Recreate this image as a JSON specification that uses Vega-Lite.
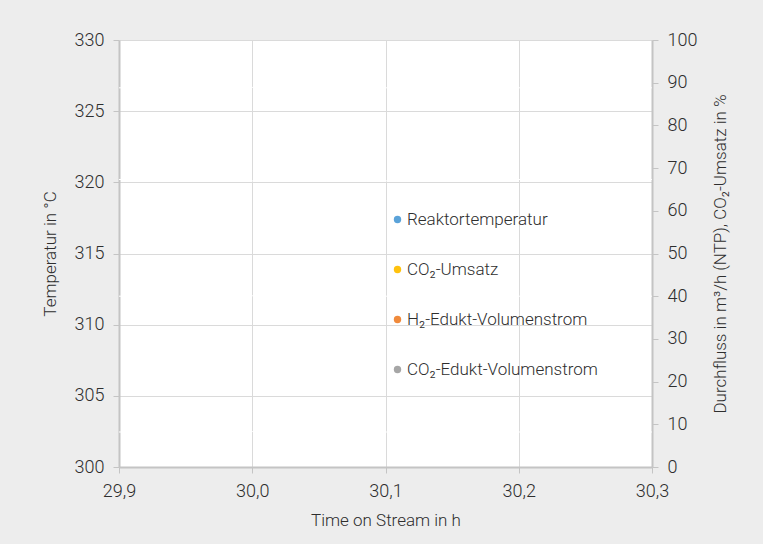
{
  "$schema": "https://vega.github.io/schema/vega-lite/v6.json",
  "width": 533,
  "height": 427,
  "autosize": {"type": "none"},
  "padding": {"left": 119, "top": 40, "right": 111, "bottom": 77},
  "background": "#ededed",
  "config": {
    "font": "Roboto",
    "view": {"fill": "white", "stroke": null},
    "axis": {
      "labelFont": "Roboto",
      "titleFont": "Roboto",
      "labelFontSize": 18,
      "titleFontSize": 17,
      "labelFontWeight": 300,
      "titleFontWeight": 300,
      "labelColor": "#2e2e2e",
      "titleColor": "#2e2e2e",
      "domainColor": "#c4c4c4",
      "domainWidth": 2,
      "tickColor": "#c4c4c4",
      "tickSize": 6,
      "tickWidth": 1,
      "gridColor": "#dadada",
      "gridWidth": 1,
      "labelPadding": 9
    },
    "legend": {
      "labelFont": "Roboto",
      "labelFontSize": 17,
      "labelFontWeight": 300,
      "labelColor": "#2e2e2e"
    }
  },
  "datasets": {
    "temp": [
      {"t": 29.90, "series": "Reaktortemperatur", "value": 320.2},
      {"t": 29.92, "series": "Reaktortemperatur", "value": 320.2},
      {"t": 29.94, "series": "Reaktortemperatur", "value": 320.1},
      {"t": 29.96, "series": "Reaktortemperatur", "value": 320.2},
      {"t": 29.98, "series": "Reaktortemperatur", "value": 320.2},
      {"t": 30.00, "series": "Reaktortemperatur", "value": 320.1},
      {"t": 30.02, "series": "Reaktortemperatur", "value": 320.2},
      {"t": 30.04, "series": "Reaktortemperatur", "value": 320.3},
      {"t": 30.06, "series": "Reaktortemperatur", "value": 320.2},
      {"t": 30.08, "series": "Reaktortemperatur", "value": 320.2},
      {"t": 30.10, "series": "Reaktortemperatur", "value": 320.1},
      {"t": 30.12, "series": "Reaktortemperatur", "value": 320.2},
      {"t": 30.14, "series": "Reaktortemperatur", "value": 320.2},
      {"t": 30.16, "series": "Reaktortemperatur", "value": 320.2},
      {"t": 30.18, "series": "Reaktortemperatur", "value": 320.1},
      {"t": 30.20, "series": "Reaktortemperatur", "value": 320.2},
      {"t": 30.22, "series": "Reaktortemperatur", "value": 320.2},
      {"t": 30.24, "series": "Reaktortemperatur", "value": 320.3},
      {"t": 30.26, "series": "Reaktortemperatur", "value": 320.2},
      {"t": 30.28, "series": "Reaktortemperatur", "value": 320.2},
      {"t": 30.30, "series": "Reaktortemperatur", "value": 320.2}
    ],
    "flow": [
      {"t": 29.90, "series": "CO₂-Umsatz", "value": 88.8},
      {"t": 29.95, "series": "CO₂-Umsatz", "value": 88.7},
      {"t": 30.00, "series": "CO₂-Umsatz", "value": 88.9},
      {"t": 30.05, "series": "CO₂-Umsatz", "value": 88.8},
      {"t": 30.10, "series": "CO₂-Umsatz", "value": 88.8},
      {"t": 30.15, "series": "CO₂-Umsatz", "value": 88.7},
      {"t": 30.20, "series": "CO₂-Umsatz", "value": 88.8},
      {"t": 30.25, "series": "CO₂-Umsatz", "value": 88.9},
      {"t": 30.30, "series": "CO₂-Umsatz", "value": 88.8},
      {"t": 29.90, "series": "H₂-Edukt-Volumenstrom", "value": 40.0},
      {"t": 29.95, "series": "H₂-Edukt-Volumenstrom", "value": 40.0},
      {"t": 30.00, "series": "H₂-Edukt-Volumenstrom", "value": 40.1},
      {"t": 30.05, "series": "H₂-Edukt-Volumenstrom", "value": 40.0},
      {"t": 30.10, "series": "H₂-Edukt-Volumenstrom", "value": 40.0},
      {"t": 30.15, "series": "H₂-Edukt-Volumenstrom", "value": 39.9},
      {"t": 30.20, "series": "H₂-Edukt-Volumenstrom", "value": 40.0},
      {"t": 30.25, "series": "H₂-Edukt-Volumenstrom", "value": 40.0},
      {"t": 30.30, "series": "H₂-Edukt-Volumenstrom", "value": 40.0},
      {"t": 29.90, "series": "CO₂-Edukt-Volumenstrom", "value": 8.2},
      {"t": 29.95, "series": "CO₂-Edukt-Volumenstrom", "value": 8.2},
      {"t": 30.00, "series": "CO₂-Edukt-Volumenstrom", "value": 8.3},
      {"t": 30.05, "series": "CO₂-Edukt-Volumenstrom", "value": 8.2},
      {"t": 30.10, "series": "CO₂-Edukt-Volumenstrom", "value": 8.2},
      {"t": 30.15, "series": "CO₂-Edukt-Volumenstrom", "value": 8.1},
      {"t": 30.20, "series": "CO₂-Edukt-Volumenstrom", "value": 8.2},
      {"t": 30.25, "series": "CO₂-Edukt-Volumenstrom", "value": 8.2},
      {"t": 30.30, "series": "CO₂-Edukt-Volumenstrom", "value": 8.2}
    ]
  },
  "encoding": {
    "x": {
      "field": "t",
      "type": "quantitative",
      "scale": {"domain": [29.9, 30.3], "nice": false, "zero": false},
      "axis": {
        "title": "Time on Stream in h",
        "values": [29.9, 30.0, 30.1, 30.2, 30.3],
        "labelExpr": "replace(format(datum.value, '.1f'), '.', ',')",
        "grid": true,
        "titlePadding": 12,
        "labelFlush": false
      }
    },
    "color": {
      "field": "series",
      "type": "nominal",
      "scale": {
        "domain": ["Reaktortemperatur", "CO₂-Umsatz", "H₂-Edukt-Volumenstrom", "CO₂-Edukt-Volumenstrom"],
        "range": ["#5ba3d9", "#ffc20e", "#f08a3c", "#a6a6a6"]
      },
      "legend": {
        "title": null,
        "orient": "none",
        "legendX": 270,
        "legendY": 171,
        "padding": 0,
        "symbolType": "circle",
        "symbolSize": 55,
        "symbolOpacity": 1,
        "symbolStrokeWidth": 0,
        "rowPadding": 32,
        "labelOffset": 1,
        "labelLimit": 400
      }
    }
  },
  "layer": [
    {
      "data": {"name": "temp"},
      "encoding": {
        "y": {
          "field": "value",
          "type": "quantitative",
          "scale": {"domain": [300, 330], "nice": false, "zero": false},
          "axis": {
            "orient": "left",
            "title": "Temperatur in °C",
            "values": [300, 305, 310, 315, 320, 325, 330],
            "grid": true,
            "titlePadding": 15,
            "labelFlush": false
          }
        }
      },
      "layer": [
        {
          "mark": {"type": "line", "stroke": "white", "strokeWidth": 1},
          "encoding": {"detail": {"field": "series"}, "color": {"value": "white"}}
        },
        {
          "mark": {"type": "point", "filled": true, "opacity": 0},
          "encoding": {}
        }
      ]
    },
    {
      "data": {"name": "flow"},
      "encoding": {
        "y": {
          "field": "value",
          "type": "quantitative",
          "scale": {"domain": [0, 100], "nice": false},
          "axis": {
            "orient": "right",
            "title": "Durchfluss in m³/h (NTP), CO₂-Umsatz in %",
            "values": [0, 10, 20, 30, 40, 50, 60, 70, 80, 90, 100],
            "grid": false,
            "titleAngle": 270,
            "titlePadding": 33,
            "labelFlush": false
          }
        }
      },
      "layer": [
        {
          "mark": {"type": "line", "stroke": "white", "strokeWidth": 1},
          "encoding": {"detail": {"field": "series"}, "color": {"value": "white"}}
        },
        {
          "mark": {"type": "point", "filled": true, "opacity": 0},
          "encoding": {}
        }
      ]
    }
  ],
  "resolve": {"scale": {"y": "independent"}}
}
